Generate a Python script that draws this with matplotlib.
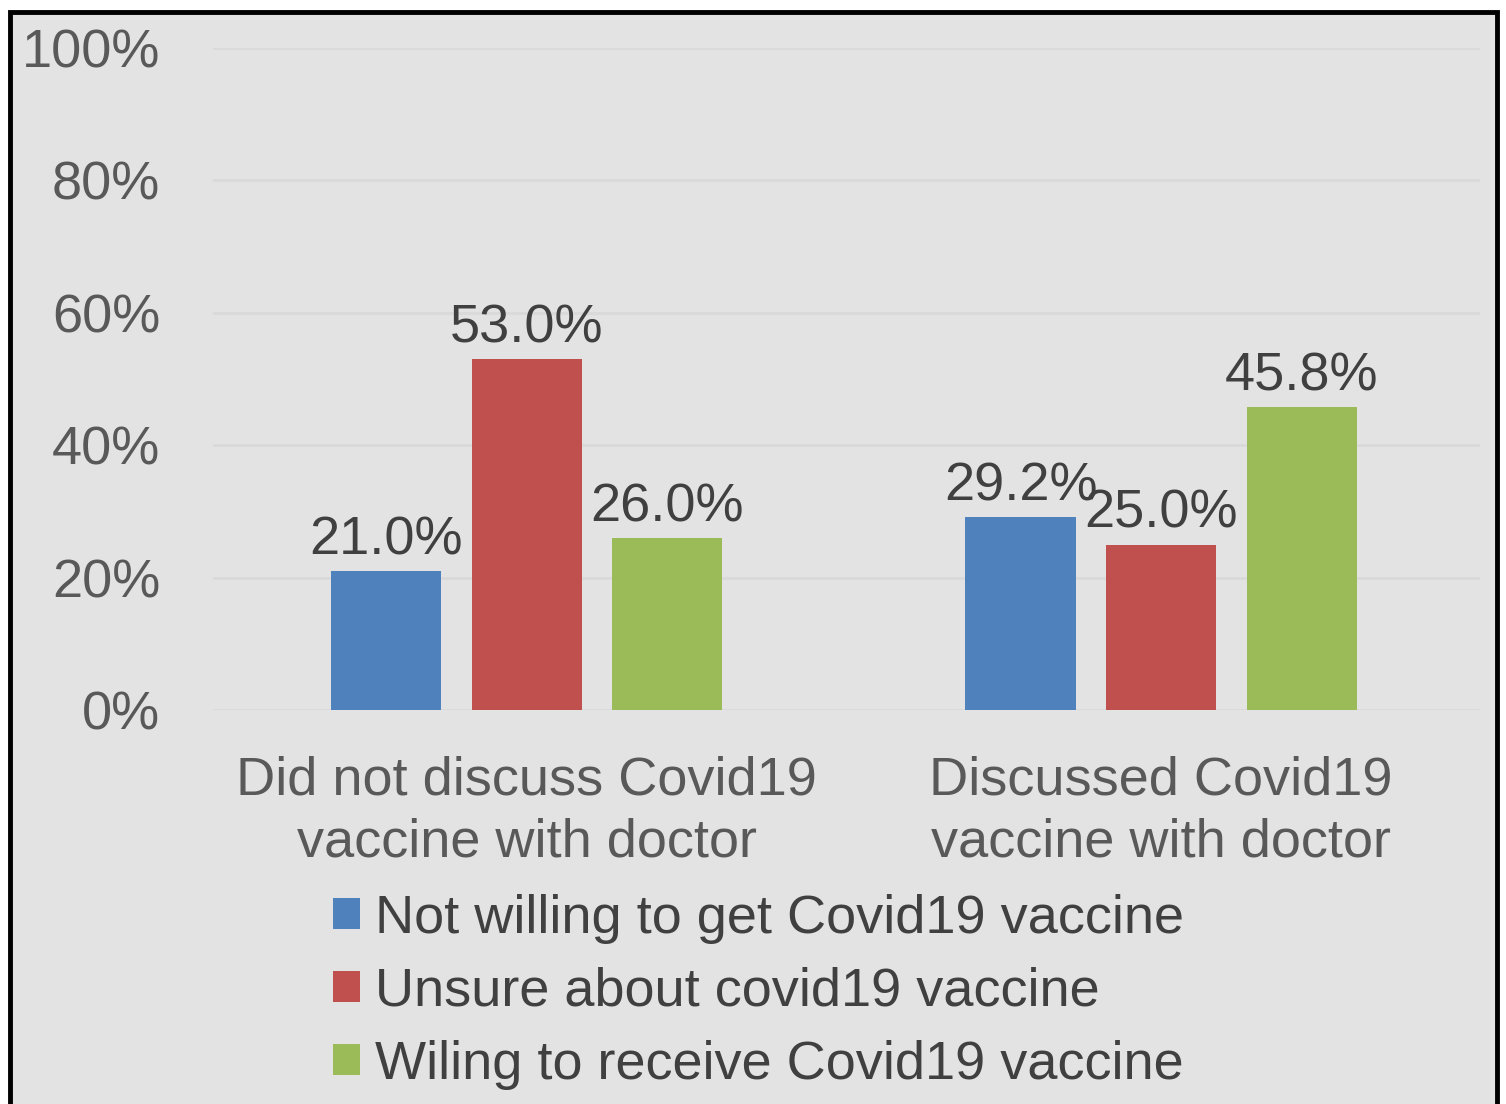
import matplotlib
matplotlib.use("Agg")
import matplotlib.pyplot as plt
from matplotlib.patches import Rectangle, Patch
import numpy as np

categories = ["Did not discuss Covid19\nvaccine with doctor", "Discussed Covid19\nvaccine with doctor"]
series_names = ["Not willing to get Covid19 vaccine",
                "Unsure about covid19 vaccine",
                "Wiling to receive Covid19 vaccine"]
not_willing = [21.0, 29.2]
unsure = [53.0, 25.0]
willing = [26.0, 45.8]
yticks = [0, 20, 40, 60, 80, 100]
ytick_labels = ["0%", "20%", "40%", "60%", "80%", "100%"]
colors = ["#4f81bd", "#c0504d", "#9bbb59"]

plt.rcParams['font.family'] = ['Liberation Sans', 'DejaVu Sans']
W, H = 1506, 1104
FS = 39
fig = plt.figure(figsize=(W/100, H/100), dpi=100)
fig.patch.set_facecolor("white")
bg = "#e3e3e3"
# framed background
fig.patches.append(Rectangle((10/W, -0.05), (1497-10)/W, 1.05 - 12/H,
                             transform=fig.transFigure, facecolor=bg,
                             edgecolor="black", linewidth=3.5, zorder=-10))

ax = fig.add_axes([213/W, 1-710/H, (1480-213)/W, (710-48)/H])
ax.set_zorder(1)
ax.set_facecolor("none")
x = np.arange(len(categories))
step = 0.2216
width = 0.1735
all_series = [not_willing, unsure, willing]
for i, (vals, c, name) in enumerate(zip(all_series, colors, series_names)):
    pos = x + (i-1)*step
    bars = ax.bar(pos, vals, width, color=c, label=name, zorder=3)
    for b, v in zip(bars, vals):
        ax.annotate(f"{v:.1f}%", (b.get_x()+b.get_width()/2, v),
                    xytext=(0, 4), textcoords="offset points",
                    ha="center", va="bottom", fontsize=FS, color="#404040")

ax.set_xlim(-0.495, 1.503)
ax.set_ylim(0, 100)
ax.set_yticks(yticks)
ax.set_yticklabels(ytick_labels, fontsize=FS, color="#595959")
ax.set_xticks(x)
ax.set_xticklabels(categories, fontsize=FS, color="#595959", linespacing=1.3)
ax.tick_params(axis='both', length=0)
ax.tick_params(axis='y', pad=38)
ax.tick_params(axis='x', pad=33)
ax.grid(axis='y', color="#dadada", linewidth=2, zorder=0)
for s in ax.spines.values():
    s.set_visible(False)

handles = [Patch(facecolor=c, edgecolor='none') for c in colors]
fig.legend(handles, series_names, loc="upper left",
           bbox_to_anchor=(333/W, 1-894/H), frameon=False,
           fontsize=FS, handlelength=0.5, handleheight=0.5,
           handletextpad=0.28, labelspacing=0.42, borderpad=0,
           borderaxespad=0, labelcolor="#404040")

fig.savefig("out.png", dpi=100, facecolor=fig.get_facecolor())
